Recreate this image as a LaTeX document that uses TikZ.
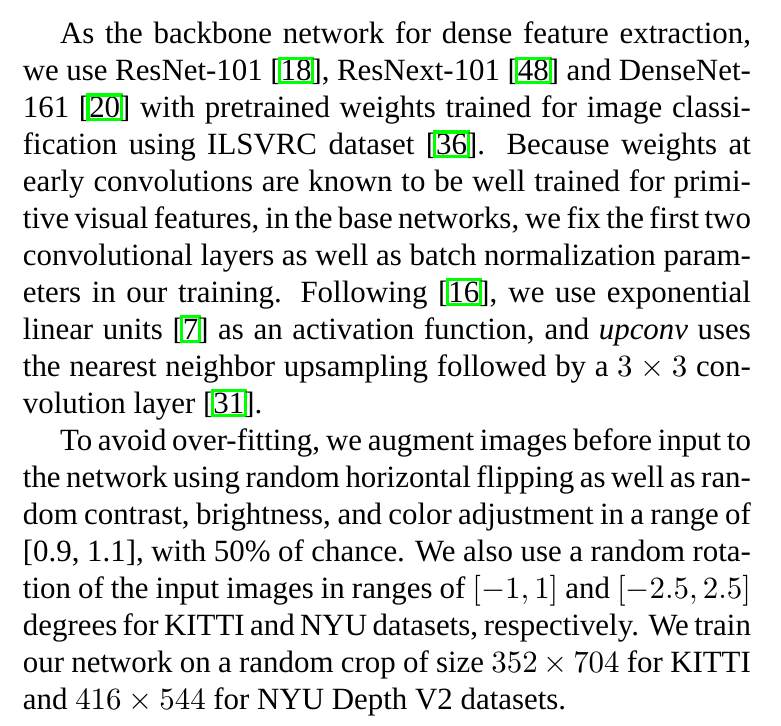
\documentclass[tikz,border=0pt]{standalone}
\usepackage{fontspec}
\setmainfont{Liberation Serif}
\definecolor{refgreen}{rgb}{0,1,0}
\tikzset{refbox/.style={draw=refgreen,line width=1pt}}
\newlength\colw \setlength\colw{235.6pt}
\newlength\indw \setlength\indw{223.6pt}
\newcommand\jl[1]{\makebox[\colw][s]{#1}} % justified line
\newcommand\ji[1]{\makebox[\indw][s]{#1}} % justified, indented line
\newcommand\rf[1]{[\tikz[baseline=(rn.base)]{\node[inner sep=0pt,anchor=base](rn){#1};\draw[refbox,overlay]([shift={(-0.2pt,-0.5pt)}]rn.base west) rectangle ([shift={(0.2pt,7.4pt)}]rn.base east);}]}
\begin{document}
\begin{tikzpicture}[x=1pt,y=1pt]
\tikzstyle{ln} = [anchor=base west,inner sep=0pt,font=\fontsize{10}{12}\selectfont] %text line
\useasboundingbox[fill=white](0,0) rectangle (252.75,-234.95);
\node[ln](l1)at(19.22,-14.24){\ji{As the backbone network for dense feature extraction,}};
\node[ln](l2)at(7.22,-26.20){\jl{we use ResNet-101 \rf{18}, ResNext-101 \rf{48} and DenseNet-}};
\node[ln](l3)at(7.22,-38.16){\jl{161 \rf{20} with pretrained weights trained for image classi-}};
\node[ln](l4)at(7.22,-50.12){\jl{fication using ILSVRC dataset \rf{36}. Because weights at}};
\node[ln](l5)at(7.22,-62.08){\jl{early convolutions are known to be well trained for primi-}};
\node[ln](l6)at(7.22,-74.04){\jl{tive visual features, in the base networks, we fix the first two}};
\node[ln](l7)at(7.22,-86.00){\jl{convolutional layers as well as batch normalization param-}};
\node[ln](l8)at(7.22,-97.96){\jl{eters in our training. Following \rf{16}, we use exponential}};
\node[ln](l9)at(7.22,-109.92){\jl{linear units \rf{7} as an activation function, and \emph{upconv} uses}};
\node[ln](l10)at(7.22,-121.88){\jl{the nearest neighbor upsampling followed by a $3\times3$ con-}};
\node[ln](l11)at(7.22,-133.84){volution layer \rf{31}.};
\node[ln](l12)at(19.22,-145.80){\ji{To avoid over-fitting, we augment images before input to}};
\node[ln](l13)at(7.22,-157.76){\jl{the network using random horizontal flipping as well as ran-}};
\node[ln](l14)at(7.22,-169.72){\jl{dom contrast, brightness, and color adjustment in a range of}};
\node[ln](l15)at(7.22,-181.68){\jl{[0.9, 1.1], with 50\% of chance. We also use a random rota-}};
\node[ln](l16)at(7.22,-193.64){\jl{tion of the input images in ranges of $[-1,1]$ and $[-2.5,2.5]$}};
\node[ln](l17)at(7.22,-205.60){\jl{degrees for KITTI and NYU datasets, respectively. We train}};
\node[ln](l18)at(7.22,-217.56){\jl{our network on a random crop of size $352\times704$ for KITTI}};
\node[ln](l19)at(7.22,-229.52){and $416\times544$ for NYU Depth V2 datasets.};
\end{tikzpicture}
\end{document}
